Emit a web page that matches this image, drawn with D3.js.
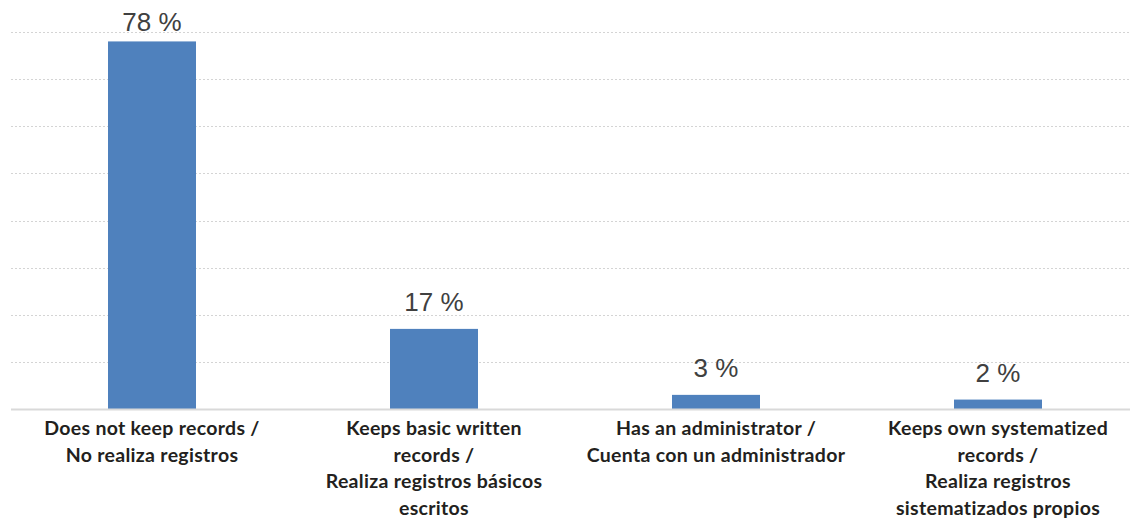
<!DOCTYPE html>
<html>
<head>
<meta charset="utf-8">
<script src="https://cdn.jsdelivr.net/npm/d3@7"></script>
<style>
  body { margin: 0; background: #fff; }
  svg { display: block; }
</style>
</head>
<body>
<svg id="chart"></svg>
<script>
// data
const categories = ['records', 'basic', 'admin', 'systematized']
const values = [78, 17, 3, 2]
const labelLines = [
  ['Does not keep records /', 'No realiza registros'],
  ['Keeps basic written', 'records /', 'Realiza registros básicos', 'escritos'],
  ['Has an administrator /', 'Cuenta con un administrador'],
  ['Keeps own systematized', 'records /', 'Realiza registros', 'sistematizados propios']
]
const gridTicks = [10, 20, 30, 40, 50, 60, 70, 80]

let width = 1130
let height = 519
let margin = { top: 32, right: -9, bottom: 110, left: 11 }

let svg = d3.select('#chart')
  .attr('width', width)
  .attr('height', height)

let x = d3.scaleBand()
  .domain(categories)
  .range([margin.left, width - margin.right])

let y = d3.scaleLinear()
  .domain([0, 80])
  .range([height - margin.bottom, margin.top])

let barWidth = x.bandwidth() * 0.312

// dotted gridlines
svg.append('g')
  .selectAll('line')
  .data(gridTicks)
  .enter().append('line')
  .attr('x1', margin.left)
  .attr('x2', width)
  .attr('y1', d => Math.round(y(d)) + 0.5)
  .attr('y2', d => Math.round(y(d)) + 0.5)
  .attr('stroke', '#d4d4d4')
  .attr('stroke-width', 1)
  .attr('stroke-dasharray', '2,2')

// bars
svg.append('g')
  .selectAll('rect')
  .data(values)
  .enter().append('rect')
  .attr('x', (d, i) => x(categories[i]) + (x.bandwidth() - barWidth) / 2)
  .attr('y', d => y(d))
  .attr('width', barWidth)
  .attr('height', d => y(0) - y(d))
  .attr('fill', '#4f81bd')

// baseline
svg.append('line')
  .attr('x1', margin.left)
  .attr('x2', width)
  .attr('y1', y(0) + 0.5)
  .attr('y2', y(0) + 0.5)
  .attr('stroke', '#d9d9d9')
  .attr('stroke-width', 2)

// value labels
svg.append('g')
  .selectAll('text')
  .data(values)
  .enter().append('text')
  .attr('x', (d, i) => x(categories[i]) + x.bandwidth() / 2)
  .attr('y', d => Math.max(y(d) - 18, 31))
  .attr('text-anchor', 'middle')
  .attr('font-family', 'Liberation Sans, Arial, sans-serif')
  .attr('font-size', 26)
  .attr('fill', '#404040')
  .text(d => d + ' %')

// category labels
let catText = svg.append('g')
  .selectAll('text')
  .data(labelLines)
  .enter().append('text')
  .attr('text-anchor', 'middle')
  .attr('font-family', 'Lato, sans-serif')
  .attr('font-weight', 'bold')
  .attr('font-size', 19.5)
  .attr('letter-spacing', 0.3)
  .attr('fill', '#231f20')

catText.selectAll('tspan')
  .data((d, i) => d.map(line => ({ line: line, i: i })))
  .enter().append('tspan')
  .attr('x', d => x(categories[d.i]) + x.bandwidth() / 2)
  .attr('y', (d, j) => y(0) + 26 + j * 26.5)
  .text(d => d.line)
</script>
</body>
</html>
